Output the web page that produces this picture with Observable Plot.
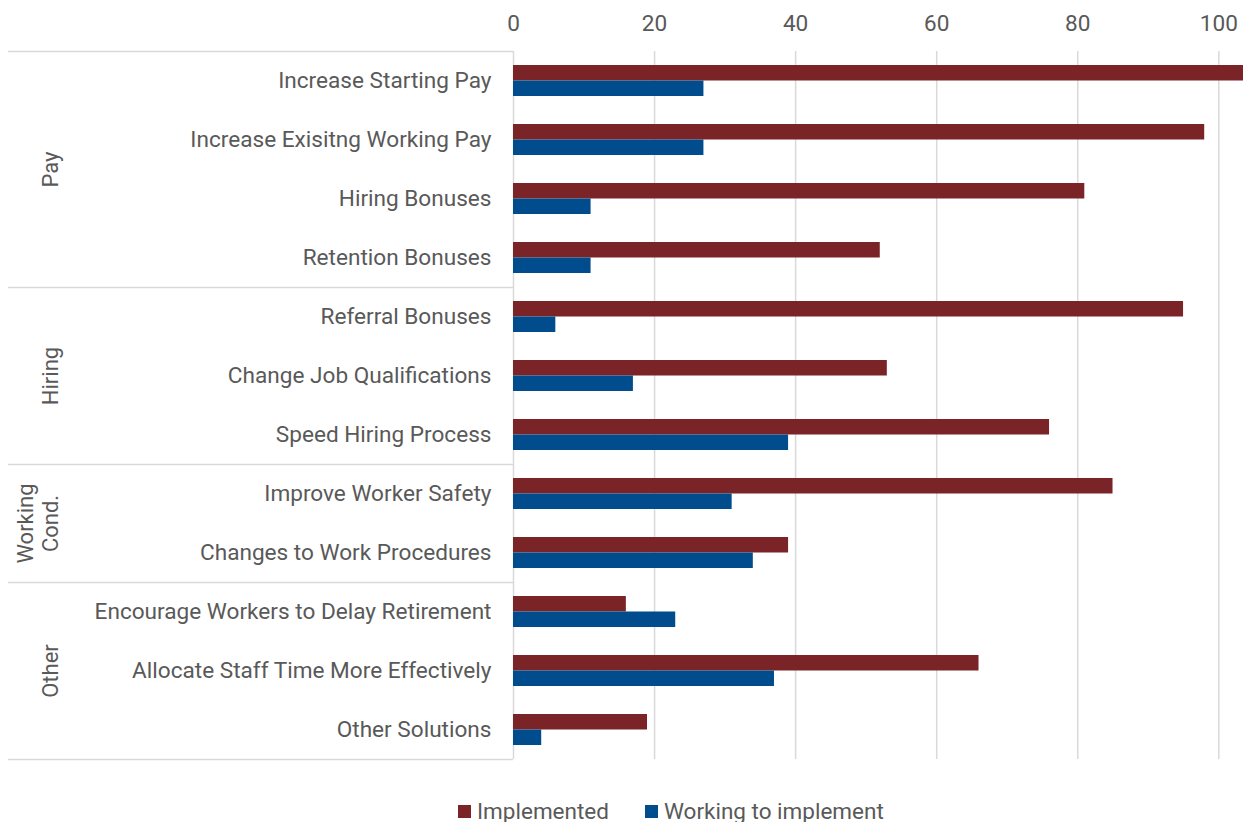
<!DOCTYPE html>
<html>
<head>
<meta charset="utf-8">
<script src="https://cdn.jsdelivr.net/npm/d3@7"></script>
<script src="https://cdn.jsdelivr.net/npm/@observablehq/plot@0.6"></script>
<style>
  html, body { margin: 0; padding: 0; background: #fff; }
  body { width: 1243px; height: 822px; overflow: hidden; font-family: Roboto, "Liberation Sans", sans-serif; }
  #legend { display: flex; align-items: center; height: 42px; margin-top: 10px; padding-left: 458px; font-size: 22.5px; color: #595959; }
  .item { display: flex; align-items: center; margin-right: 36px; }
  .sw { width: 13px; height: 13px; margin-right: 6px; }
</style>
</head>
<body>
<div id="chart"></div>
<div id="legend"></div>
<script>
const categories = [
  "Increase Starting Pay",
  "Increase Exisitng Working Pay",
  "Hiring Bonuses",
  "Retention Bonuses",
  "Referral Bonuses",
  "Change Job Qualifications",
  "Speed Hiring Process",
  "Improve Worker Safety",
  "Changes to Work Procedures",
  "Encourage Workers to Delay Retirement",
  "Allocate Staff Time More Effectively",
  "Other Solutions"
];
const implemented = [104, 98, 81, 52, 95, 53, 76, 85, 39, 16, 66, 19];
const working = [27, 27, 11, 11, 6, 17, 39, 31, 34, 23, 37, 4];
const groupNames = ["Pay", "Hiring", "Working\nCond.", "Other"];
const groupSizes = [4, 3, 2, 3];
const xTicks = [0, 20, 40, 60, 80, 100];
const seriesNames = ["Implemented", "Working to implement"];
const seriesColors = ["#7B2428", "#004C8C"];

const data = categories.map((c, i) => ({category: c, implemented: implemented[i], working: working[i]}));

// group layout derived from group sizes
const groups = [];
let start = 0;
groupNames.forEach((g, i) => {
  const n = groupSizes[i];
  groups.push({name: g, first: categories[start], mid: categories[start + Math.floor(n / 2)], even: n % 2 === 0});
  start += n;
});

const width = 1243, height = 780, marginTop = 51, marginBottom = 21, marginLeft = 513, marginRight = 0;
const step = (height - marginTop - marginBottom) / categories.length;
const grid = "#d9d9d9";

const plot = Plot.plot({
  width, height, marginTop, marginBottom, marginLeft, marginRight,
  style: {fontFamily: "Roboto, 'Liberation Sans', sans-serif", fontSize: "22.6px", color: "#595959", background: "#fff"},
  x: {domain: [0, 103.5], axis: "top", ticks: xTicks, tickSize: 0, tickPadding: 21, label: null},
  y: {domain: categories, padding: 0, tickSize: 0, tickPadding: 22, label: null},
  marks: [
    Plot.ruleX(xTicks, {stroke: grid, strokeWidth: 1.5}),
    Plot.ruleY(groups.map(g => g.first), {y: d => d, dy: -step / 2, insetLeft: -(marginLeft - 8), insetRight: width - marginLeft - marginRight, stroke: grid, strokeWidth: 1.5}),
    Plot.ruleY([categories[categories.length - 1]], {y: d => d, dy: step / 2, insetLeft: -(marginLeft - 8), insetRight: width - marginLeft - marginRight, stroke: grid, strokeWidth: 1.5}),
    Plot.barX(data, {x: "implemented", y: "category", fill: seriesColors[0], insetTop: 14, insetBottom: 29.5, clip: true}),
    Plot.barX(data, {x: "working", y: "category", fill: seriesColors[1], insetTop: 29.5, insetBottom: 14, clip: true}),
    Plot.text(groups.filter(g => g.even), {y: "mid", text: "name", frameAnchor: "left", dx: 57 - marginLeft, dy: -step / 2, rotate: -90, textAnchor: "middle", lineAnchor: "bottom", fill: "#595959", fontSize: 22, lineHeight: 1.1}),
    Plot.text(groups.filter(g => !g.even), {y: "mid", text: "name", frameAnchor: "left", dx: 57 - marginLeft, rotate: -90, textAnchor: "middle", lineAnchor: "bottom", fill: "#595959", fontSize: 22, lineHeight: 1.1})
  ]
});
document.getElementById("chart").appendChild(plot);

const legend = d3.select("#legend");
seriesNames.forEach((s, i) => {
  const item = legend.append("div").attr("class", "item");
  item.append("div").attr("class", "sw").style("background", seriesColors[i]);
  item.append("span").text(s);
});
</script>
</body>
</html>
